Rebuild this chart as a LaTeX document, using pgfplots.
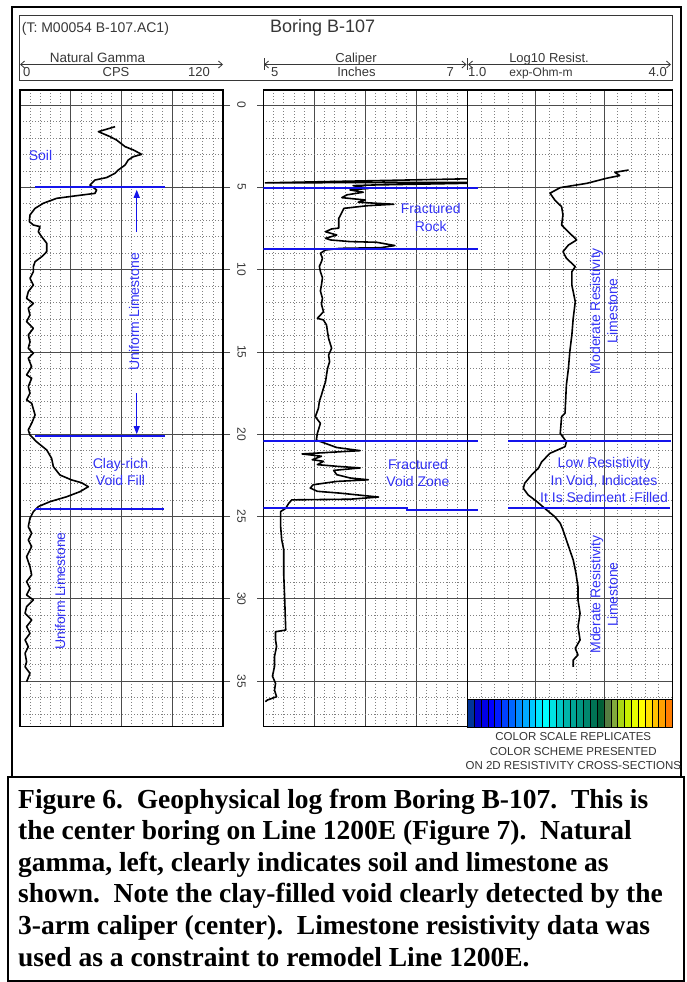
\documentclass[border=0pt]{standalone}
\usepackage{fontspec}
\setmainfont{Liberation Sans}
\newfontfamily\capfont{Liberation Serif}
\usepackage{pgfplots}
\pgfplotsset{compat=1.18}
\usetikzlibrary{arrows.meta}
\definecolor{annot}{RGB}{50,50,245}
\definecolor{annotline}{RGB}{20,20,235}
\definecolor{hdr}{RGB}{55,55,55}
\definecolor{cb1}{RGB}{0,51,153}
\definecolor{cb2}{RGB}{0,0,204}
\definecolor{cb3}{RGB}{0,0,230}
\definecolor{cb4}{RGB}{0,0,255}
\definecolor{cb5}{RGB}{0,26,255}
\definecolor{cb6}{RGB}{0,64,255}
\definecolor{cb7}{RGB}{0,102,255}
\definecolor{cb8}{RGB}{0,140,255}
\definecolor{cb9}{RGB}{0,170,255}
\definecolor{cb10}{RGB}{0,200,255}
\definecolor{cb11}{RGB}{0,230,255}
\definecolor{cb12}{RGB}{0,255,255}
\definecolor{cb13}{RGB}{0,228,228}
\definecolor{cb14}{RGB}{0,200,200}
\definecolor{cb15}{RGB}{0,180,170}
\definecolor{cb16}{RGB}{0,165,150}
\definecolor{cb17}{RGB}{0,150,130}
\definecolor{cb18}{RGB}{0,135,110}
\definecolor{cb19}{RGB}{0,115,85}
\definecolor{cb20}{RGB}{0,95,55}
\definecolor{cb21}{RGB}{85,125,65}
\definecolor{cb22}{RGB}{130,170,60}
\definecolor{cb23}{RGB}{170,215,20}
\definecolor{cb24}{RGB}{200,240,0}
\definecolor{cb25}{RGB}{230,255,0}
\definecolor{cb26}{RGB}{255,255,0}
\definecolor{cb27}{RGB}{255,225,0}
\definecolor{cb28}{RGB}{255,195,0}
\definecolor{cb29}{RGB}{255,160,0}
\definecolor{cb30}{RGB}{255,125,0}
\pgfplotsset{
  track/.style={
    scale only axis, anchor=north west, height=636.5pt,
    y dir=reverse, ymin=-0.91, ymax=37.76,
    ytick={0,5,...,35},
    minor ytick={1,2,3,4,6,7,8,9,11,12,13,14,16,17,18,19,21,22,23,24,26,27,28,29,31,32,33,34,36,37},
    grid=both,
    major grid style={black!70, line width=0.7pt},
    minor grid style={black!50, line width=0.5pt, dash pattern=on 1pt off 2pt},
    axis line style={black, line width=1.1pt},
    xticklabels={}, yticklabels={},
    xtick style={draw=none},
    minor tick length=0pt,
    tick align=outside,
    ytick style={black!70, line width=0.7pt},
  },
  curve/.style={black, line width=1.6pt, line join=round, no markers},
  bluenote/.style={draw=annotline, color=annotline, line width=1.8pt, no markers, solid},
  cell/.style={draw=black, line width=0.5pt, no markers},
}
\begin{document}
\begin{tikzpicture}
\path[use as bounding box] (0pt,0pt) rectangle (687pt,-982pt);

% ---------------- Natural gamma track ----------------
\begin{axis}[track, at={(20pt,-90pt)}, width=203pt,
  xmin=0, xmax=120, xtick={0,30,...,120},
  minor xtick={6,12,18,24,36,42,48,54,66,72,78,84,96,102,108,114},
  ytick pos=right, major tick length=7pt]
\addplot[curve] coordinates {
(56.2,1.32)(46.3,1.62)(53.2,1.92)(57.1,2.13)(62.1,2.53)(67.0,2.73)(71.9,3.0)(67.0,3.14)
(64.0,3.34)(62.1,3.65)(58.1,3.95)(56.2,4.15)(51.2,4.41)(44.3,4.56)(41.4,4.86)(45.3,5.16)
(44.3,5.37)(33.5,5.51)(21.7,5.67)(13.8,5.97)(8.9,6.28)(5.9,6.68)(5.5,7.09)(7.9,7.29)
(11.8,7.39)(10.8,7.7)(12.8,8.0)(15.8,8.4)(15.8,8.91)(12.8,9.22)(8.9,9.52)(7.9,9.82)
(7.9,10.13)(5.9,10.53)(7.9,10.94)(4.9,11.34)(3.9,11.75)(7.9,12.05)(4.9,12.35)(5.9,12.76)
(3.9,13.16)(7.9,13.57)(4.9,13.97)(5.9,14.38)(4.9,14.78)(7.9,15.08)(4.9,15.39)(6.9,15.9)
(3.9,16.4)(6.9,16.6)(4.9,17.11)(5.9,17.51)(3.9,17.92)(6.9,18.12)(8.9,18.83)(6.9,19.34)
(4.9,19.74)(5.9,20.05)(9.8,20.46)(15.8,20.96)(18.7,21.47)(19.7,21.97)(23.6,22.48)(30.5,22.78)
(36.4,22.95)(40.4,23.19)(35.5,23.49)(27.6,23.8)(17.7,24.1)(10.8,24.4)(7.9,24.71)(5.9,25.11)
(4.9,25.62)(6.9,26.02)(4.9,26.43)(6.9,26.83)(3.9,27.44)(5.9,28.05)(6.9,28.55)(3.9,28.96)
(5.9,29.36)(3.9,29.77)(7.9,30.07)(3.9,30.48)(3.0,30.88)(6.9,31.29)(3.9,31.69)(5.9,32.1)
(3.0,32.5)(4.9,32.91)(3.0,33.31)(3.9,33.82)(3.0,34.13)(5.9,34.53)(3.9,35.04)};
\addplot[bluenote] coordinates {(8.9,5.0)(85.7,5.0)};
\addplot[bluenote] coordinates {(8.9,20.11)(85.7,20.11)};
\addplot[bluenote] coordinates {(8.9,24.53)(85,24.53)};
\addplot[annotline, line width=1pt, no markers, -{Triangle[length=8pt,width=6pt]}] coordinates {(69,7.7)(69,5.15)};
\addplot[annotline, line width=1pt, no markers, -{Triangle[length=8pt,width=6pt]}] coordinates {(69,17.5)(69,20.0)};
\end{axis}

% ---------------- Caliper track ----------------
\begin{axis}[track, at={(263.3pt,-90pt)}, width=204pt,
  xmin=5, xmax=7, xtick={5,5.5,...,7},
  minor xtick={5.1,5.2,5.3,5.4,5.6,5.7,5.8,5.9,6.1,6.2,6.3,6.4,6.6,6.7,6.8,6.9},
  ytick pos=left, major tick length=6pt,
  yticklabels={0,5,10,15,20,25,30,35},
  yticklabel style={xshift=-8pt, rotate=-90, anchor=north, font=\fontsize{12}{12}\selectfont, text=hdr}]
\addplot[curve] coordinates {
(7.6,4.41)(5.02,4.73)(7.6,4.69)(6.08,4.86)(5.88,4.9)(6.03,5.07)(5.85,5.16)(5.98,5.3)
(5.82,5.46)(5.77,5.63)(6.0,5.77)(5.93,5.91)(6.28,6.03)(6.02,6.12)(5.79,6.28)(5.75,6.78)
(5.74,6.88)(5.74,7.48)(5.67,7.53)(5.61,7.7)(5.72,7.9)(5.61,8.1)(5.66,8.2)(5.85,8.3)
(6.11,8.34)(6.29,8.54)(6.15,8.67)(5.75,8.71)(5.61,8.81)(5.56,9.01)(5.58,9.3)(5.57,9.52)
(5.55,9.8)(5.56,10.13)(5.58,10.5)(5.57,10.94)(5.56,11.3)(5.58,11.75)(5.57,12.1)(5.59,12.56)
(5.53,12.96)(5.59,13.06)(5.62,13.37)(5.63,13.8)(5.64,14.18)(5.67,14.78)(5.64,15.19)(5.65,15.6)
(5.63,16.0)(5.62,16.4)(5.61,16.81)(5.59,17.2)(5.57,17.62)(5.55,18.0)(5.54,18.43)(5.51,18.94)
(5.56,19.34)(5.53,19.95)(5.52,20.36)(5.72,20.81)(5.95,21.0)(5.66,21.1)(5.38,21.2)(5.57,21.34)
(5.48,21.55)(5.59,21.65)(5.53,21.85)(5.72,21.95)(5.95,22.05)(5.69,22.2)(5.72,22.46)(5.85,22.66)
(6.03,22.77)(5.72,22.87)(5.49,23.07)(5.46,23.27)(5.53,23.47)(5.75,23.58)(6.13,23.82)(5.85,23.95)
(5.28,23.99)(5.25,24.19)(5.22,24.5)(5.17,24.7)(5.17,25.6)(5.18,26.4)(5.2,27.0)(5.2,28.45)
(5.21,30.07)(5.22,31.9)(5.12,32.0)(5.12,32.5)(5.13,32.9)(5.11,33.5)(5.11,34.1)(5.09,34.7)
(5.12,35.14)(5.11,35.55)(5.13,35.95)(5.04,36.15)(5.02,36.25)};
\addplot[bluenote] coordinates {(5,5.02)(7,5.02)};
\addplot[bluenote] coordinates {(5,8.77)(7,8.77)};
\addplot[bluenote] coordinates {(5,20.41)(7,20.41)};
\addplot[bluenote] coordinates {(5,24.5)(6.41,24.5)(6.41,24.6)(7,24.6)};
\end{axis}

% ---------------- Resistivity track ----------------
\begin{axis}[track, at={(467.3pt,-90pt)}, width=205pt,
  xmin=1, xmax=4, xtick={1,2,3,4},
  minor xtick={1.2,1.4,1.6,1.8,2.2,2.4,2.6,2.8,3.2,3.4,3.6,3.8},
  ytick style={draw=none}]
\addplot[curve] coordinates {
(3.36,3.95)(3.16,4.09)(3.23,4.29)(3.04,4.45)(2.75,4.76)(2.36,5.02)(2.21,5.36)(2.28,5.77)
(2.38,6.18)(2.4,6.68)(2.38,7.29)(2.5,7.79)(2.6,8.2)(2.48,8.51)(2.4,8.91)(2.45,9.31)
(2.58,9.82)(2.53,10.13)(2.53,10.94)(2.58,11.95)(2.55,12.96)(2.53,13.97)(2.5,14.99)(2.48,16.0)
(2.45,17.01)(2.43,18.73)(2.38,18.94)(2.36,19.95)(2.45,20.46)(2.43,20.76)(2.21,21.16)(2.09,21.67)
(2.04,22.07)(1.94,22.48)(1.84,22.98)(1.82,23.29)(1.89,23.69)(2.02,24.1)(2.16,24.6)(2.28,25.01)
(2.36,25.41)(2.4,25.82)(2.45,26.43)(2.5,27.04)(2.55,27.64)(2.59,28.45)(2.62,29.27)(2.62,30.07)
(2.65,30.88)(2.62,31.69)(2.65,32.5)(2.58,33.01)(2.62,33.41)(2.55,33.72)(2.55,34.13)};
\addplot[bluenote] coordinates {(1,5.02)(1.16,5.02)};
\addplot[bluenote] coordinates {(1,8.77)(1.16,8.77)};
\addplot[bluenote] coordinates {(1,20.41)(1.16,20.41)};
\addplot[bluenote] coordinates {(1.6,20.41)(3.98,20.41)};
\addplot[bluenote] coordinates {(1,24.6)(1.16,24.6)};
\addplot[bluenote] coordinates {(1.6,24.5)(3.97,24.5)};
\end{axis}

% ---------------- Colour scale ----------------
\begin{axis}[at={(467.3pt,-699.3pt)}, anchor=north west, scale only axis,
  width=205pt, height=28.4pt, xmin=0, xmax=30, ymin=0, ymax=1, hide axis, clip=false]
\addplot[cell, fill=cb1] coordinates {(0,0)(1,0)(1,1)(0,1)(0,0)};
\addplot[cell, fill=cb2] coordinates {(1,0)(2,0)(2,1)(1,1)(1,0)};
\addplot[cell, fill=cb3] coordinates {(2,0)(3,0)(3,1)(2,1)(2,0)};
\addplot[cell, fill=cb4] coordinates {(3,0)(4,0)(4,1)(3,1)(3,0)};
\addplot[cell, fill=cb5] coordinates {(4,0)(5,0)(5,1)(4,1)(4,0)};
\addplot[cell, fill=cb6] coordinates {(5,0)(6,0)(6,1)(5,1)(5,0)};
\addplot[cell, fill=cb7] coordinates {(6,0)(7,0)(7,1)(6,1)(6,0)};
\addplot[cell, fill=cb8] coordinates {(7,0)(8,0)(8,1)(7,1)(7,0)};
\addplot[cell, fill=cb9] coordinates {(8,0)(9,0)(9,1)(8,1)(8,0)};
\addplot[cell, fill=cb10] coordinates {(9,0)(10,0)(10,1)(9,1)(9,0)};
\addplot[cell, fill=cb11] coordinates {(10,0)(11,0)(11,1)(10,1)(10,0)};
\addplot[cell, fill=cb12] coordinates {(11,0)(12,0)(12,1)(11,1)(11,0)};
\addplot[cell, fill=cb13] coordinates {(12,0)(13,0)(13,1)(12,1)(12,0)};
\addplot[cell, fill=cb14] coordinates {(13,0)(14,0)(14,1)(13,1)(13,0)};
\addplot[cell, fill=cb15] coordinates {(14,0)(15,0)(15,1)(14,1)(14,0)};
\addplot[cell, fill=cb16] coordinates {(15,0)(16,0)(16,1)(15,1)(15,0)};
\addplot[cell, fill=cb17] coordinates {(16,0)(17,0)(17,1)(16,1)(16,0)};
\addplot[cell, fill=cb18] coordinates {(17,0)(18,0)(18,1)(17,1)(17,0)};
\addplot[cell, fill=cb19] coordinates {(18,0)(19,0)(19,1)(18,1)(18,0)};
\addplot[cell, fill=cb20] coordinates {(19,0)(20,0)(20,1)(19,1)(19,0)};
\addplot[cell, fill=cb21] coordinates {(20,0)(21,0)(21,1)(20,1)(20,0)};
\addplot[cell, fill=cb22] coordinates {(21,0)(22,0)(22,1)(21,1)(21,0)};
\addplot[cell, fill=cb23] coordinates {(22,0)(23,0)(23,1)(22,1)(22,0)};
\addplot[cell, fill=cb24] coordinates {(23,0)(24,0)(24,1)(23,1)(23,0)};
\addplot[cell, fill=cb25] coordinates {(24,0)(25,0)(25,1)(24,1)(24,0)};
\addplot[cell, fill=cb26] coordinates {(25,0)(26,0)(26,1)(25,1)(25,0)};
\addplot[cell, fill=cb27] coordinates {(26,0)(27,0)(27,1)(26,1)(26,0)};
\addplot[cell, fill=cb28] coordinates {(27,0)(28,0)(28,1)(27,1)(27,0)};
\addplot[cell, fill=cb29] coordinates {(28,0)(29,0)(29,1)(28,1)(28,0)};
\addplot[cell, fill=cb30] coordinates {(29,0)(30,0)(30,1)(29,1)(29,0)};
\end{axis}

\begin{scope}[x=1pt, y=-1pt]
% frames
\draw[line width=2pt] (11.7,6.7) rectangle (680.5,777);
\draw[line width=2pt] (8,777) rectangle (684,980.5);
\draw[hdr, line width=0.8pt] (19.3,15) rectangle (672.3,80);
% header text
\node[anchor=base west, inner sep=0, font=\fontsize{14}{14}\selectfont, text=hdr] at (21.7,33) {(T: M00054 B-107.AC1)};
\node[anchor=base west, inner sep=0, font=\fontsize{18}{18}\selectfont, text=hdr] at (270,33) {Boring B-107};
\draw[hdr, line width=0.8pt, {Straight Barb[length=4pt,width=7pt]}-{Straight Barb[length=4pt,width=7pt]}] (20,64.5) -- (223,64.5);
\draw[hdr, line width=0.8pt, {Straight Barb[length=4pt,width=7pt]}-{Straight Barb[length=4pt,width=7pt]}] (264,64.5) -- (466.5,64.5);
\draw[hdr, line width=0.8pt, {Straight Barb[length=4pt,width=7pt]}-{Straight Barb[length=4pt,width=7pt]}] (468,64.5) -- (671,64.5);
\draw[hdr, line width=0.8pt] (264,58.5) -- (264,70.5);
\draw[hdr, line width=0.8pt] (467.3,58.5) -- (467.3,70.5);
\node[anchor=base, inner sep=0, font=\fontsize{13.5}{13.5}\selectfont, text=hdr] at (97.5,62.5) {Natural Gamma};
\node[anchor=base, inner sep=0, font=\fontsize{13}{13}\selectfont, text=hdr] at (356,62.5) {Caliper};
\node[anchor=base, inner sep=0, font=\fontsize{13}{13}\selectfont, text=hdr] at (549,62.5) {Log10 Resist.};
\node[anchor=base west, inner sep=0, font=\fontsize{13}{13}\selectfont, text=hdr] at (23,77) {0};
\node[anchor=base, inner sep=0, font=\fontsize{13}{13}\selectfont, text=hdr] at (116,77) {CPS};
\node[anchor=base east, inner sep=0, font=\fontsize{13}{13}\selectfont, text=hdr] at (210,77) {120};
\node[anchor=base west, inner sep=0, font=\fontsize{13}{13}\selectfont, text=hdr] at (271,77) {5};
\node[anchor=base, inner sep=0, font=\fontsize{13}{13}\selectfont, text=hdr] at (356.5,77) {Inches};
\node[anchor=base east, inner sep=0, font=\fontsize{13}{13}\selectfont, text=hdr] at (454,77) {7};
\node[anchor=base west, inner sep=0, font=\fontsize{13}{13}\selectfont, text=hdr] at (468,77) {1.0};
\node[anchor=base, inner sep=0, font=\fontsize{12}{12}\selectfont, text=hdr] at (541,77) {exp-Ohm-m};
\node[anchor=base east, inner sep=0, font=\fontsize{13}{13}\selectfont, text=hdr] at (667,77) {4.0};
% annotations
\begin{scope}[every node/.style={text=annot, font=\fontsize{14}{17.3}\selectfont, align=center, inner sep=0}]
\node at (40.5,155) {Soil};
\node[rotate=90] at (134,311.7) {Uniform Limestone};
\node at (120.5,472) {Clay-rich\\Void Fill};
\node[rotate=90] at (60,591) {Uniform Limestone};
\node at (430.7,217.5) {Fractured\\Rock};
\node at (418,473) {Fractured\\Void Zone};
\node[rotate=90] at (603.7,311) {Moderate Resistivity\\Limestone};
\node at (604,480) {Low Resistivity\\In Void, Indicates\\It Is Sediment -Filled};
\node[rotate=90] at (604,594.5) {Mderate Resistivity\\Limestone};
\end{scope}
% colour scale note
\begin{scope}[every node/.style={text=black!80, font=\fontsize{11.5}{11.5}\selectfont, inner sep=0, anchor=base}]
\node at (573.3,740) {COLOR SCALE REPLICATES};
\node at (573.3,755) {COLOR SCHEME PRESENTED};
\node at (573.3,769.5) {ON 2D RESISTIVITY CROSS-SECTIONS};
\end{scope}
% caption
\begin{scope}[every node/.style={anchor=base west, inner sep=0, font=\capfont\bfseries\fontsize{27.5}{31.6}\selectfont}]
\node at (18,808) {Figure 6.\ \ Geophysical log from Boring B-107.\ \ This is};
\node at (18,839.6) {the center boring on Line 1200E (Figure 7).\ \ Natural};
\node at (18,871.2) {gamma, left, clearly indicates soil and limestone as};
\node at (18,902.8) {shown.\ \ Note the clay-filled void clearly detected by the};
\node at (18,934.4) {3-arm caliper (center).\ \ Limestone resistivity data was};
\node at (18,966) {used as a constraint to remodel Line 1200E.};
\end{scope}
\end{scope}
\end{tikzpicture}
\end{document}
